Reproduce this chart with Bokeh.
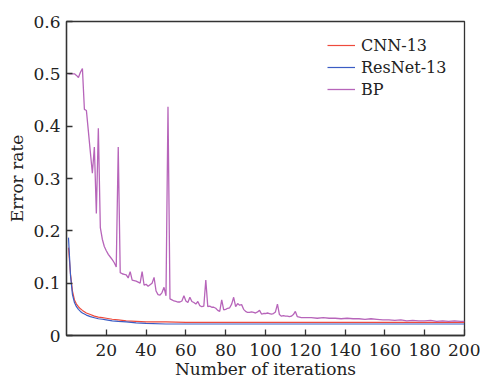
from bokeh.plotting import figure
from bokeh.models import FixedTicker, Legend, LegendItem, Range1d
from bokeh.embed import file_html
from bokeh.resources import INLINE

# ---- data ----
cnn_x = [1, 2, 3, 4, 5, 6, 7, 8, 10, 12, 14, 16, 18, 20, 23, 26, 30, 35, 40, 50, 60, 80, 100, 150, 200]
cnn_y = [0.168, 0.118, 0.085, 0.068, 0.060, 0.055, 0.051, 0.048, 0.043, 0.040, 0.037, 0.035, 0.034,
         0.033, 0.031, 0.030, 0.028, 0.027, 0.026, 0.026, 0.025, 0.025, 0.025, 0.025, 0.025]

resnet_x = [1, 2, 3, 4, 5, 6, 7, 8, 10, 12, 14, 16, 18, 20, 23, 26, 30, 35, 40, 50, 60, 100, 150, 200]
resnet_y = [0.187, 0.115, 0.078, 0.063, 0.055, 0.050, 0.046, 0.043, 0.039, 0.036, 0.034, 0.032, 0.031,
            0.030, 0.028, 0.027, 0.026, 0.024, 0.023, 0.022, 0.022, 0.022, 0.022, 0.022]

bp_x = list(range(1, 121)) + [123, 126, 129, 132, 135, 138, 141, 144, 147, 150, 153, 156, 159, 162,
                              165, 168, 171, 174, 177, 180, 183, 186, 189, 192, 195, 198, 200]
bp_y = [0.500, 0.500, 0.500, 0.500, 0.497, 0.493, 0.503, 0.510, 0.432, 0.430,
        0.390, 0.350, 0.310, 0.360, 0.233, 0.396, 0.206, 0.184, 0.170, 0.162,
        0.155, 0.150, 0.145, 0.139, 0.131, 0.360, 0.120, 0.118, 0.117, 0.116,
        0.110, 0.122, 0.106, 0.105, 0.104, 0.102, 0.100, 0.122, 0.096, 0.098,
        0.094, 0.097, 0.100, 0.111, 0.085, 0.078, 0.077, 0.082, 0.092, 0.076,
        0.437, 0.070, 0.068, 0.066, 0.065, 0.064, 0.064, 0.066, 0.076, 0.066,
        0.063, 0.073, 0.065, 0.063, 0.060, 0.065, 0.057, 0.055, 0.056, 0.106,
        0.055, 0.056, 0.054, 0.054, 0.052, 0.048, 0.046, 0.068, 0.049, 0.050,
        0.052, 0.053, 0.060, 0.073, 0.055, 0.061, 0.058, 0.059, 0.050, 0.046,
        0.044, 0.044, 0.045, 0.044, 0.043, 0.045, 0.048, 0.041, 0.042, 0.042,
        0.043, 0.042, 0.041, 0.042, 0.045, 0.060, 0.040, 0.037, 0.038, 0.037,
        0.037, 0.036, 0.037, 0.040, 0.046, 0.036, 0.035, 0.034, 0.034, 0.034,
        0.034, 0.033, 0.034, 0.033, 0.033, 0.032, 0.033, 0.032, 0.032, 0.031,
        0.032, 0.031, 0.030, 0.030, 0.029, 0.030, 0.028, 0.029, 0.028, 0.028,
        0.029, 0.027, 0.028, 0.027, 0.028, 0.027, 0.027]

x_ticks = [20, 40, 60, 80, 100, 120, 140, 160, 180, 200]
y_ticks = [0, 0.1, 0.2, 0.3, 0.4, 0.5, 0.6]
y_tick_labels = ["0", "0.1", "0.2", "0.3", "0.4", "0.5", "0.6"]
series_names = ["CNN-13", "ResNet-13", "BP"]
series_colors = ["#ee4a3c", "#3b5cc4", "#b765ba"]

FONT = "DejaVu Serif"

p = figure(width=480, height=381, output_backend="svg", toolbar_location=None,
           x_range=Range1d(0, 200), y_range=Range1d(0, 0.6),
           min_border_left=66, min_border_right=16, min_border_top=21, min_border_bottom=46)
p.background_fill_color = "white"
p.border_fill_color = "white"
p.grid.visible = False
p.outline_line_color = "#333333"
p.outline_line_width = 1.3

r_cnn = p.line(cnn_x, cnn_y, line_color=series_colors[0], line_width=1.2)
r_res = p.line(resnet_x, resnet_y, line_color=series_colors[1], line_width=1.2)
r_bp = p.line(bp_x, bp_y, line_color=series_colors[2], line_width=1.3)

for ax in (p.xaxis[0], p.yaxis[0]):
    ax.major_tick_in = 6
    ax.major_tick_out = 0
    ax.minor_tick_line_color = None
    ax.axis_line_color = "#333333"
    ax.axis_line_width = 1.3
    ax.major_tick_line_color = "#333333"
    ax.major_tick_line_width = 1.3
    ax.major_label_text_font = FONT
    ax.major_label_text_font_size = "17px"
    ax.major_label_text_color = "#222222"
    ax.axis_label_text_font = FONT
    ax.axis_label_text_font_size = "17px"
    ax.axis_label_text_font_style = "normal"
    ax.axis_label_text_color = "#222222"

p.xaxis.ticker = FixedTicker(ticks=x_ticks)
p.yaxis.ticker = FixedTicker(ticks=y_ticks)
p.yaxis.major_label_overrides = {t: l for t, l in zip(y_ticks, y_tick_labels)}
p.xaxis.axis_label = "Number of iterations"
p.yaxis.axis_label = "Error rate"
p.xaxis.major_label_standoff = 8
p.yaxis.major_label_standoff = 6
p.xaxis.axis_label_standoff = 0
p.yaxis.axis_label_standoff = 3

legend = Legend(items=[LegendItem(label=series_names[0], renderers=[r_cnn]),
                       LegendItem(label=series_names[1], renderers=[r_res]),
                       LegendItem(label=series_names[2], renderers=[r_bp])],
                location=(261, 236), padding=0, margin=0, spacing=2,
                glyph_width=28, glyph_height=20, label_height=20, label_standoff=6,
                label_text_font=FONT, label_text_font_size="16px", label_text_color="#222222",
                border_line_color=None, background_fill_alpha=0)
p.add_layout(legend)

open("out.html", "w").write(file_html(p, INLINE))
